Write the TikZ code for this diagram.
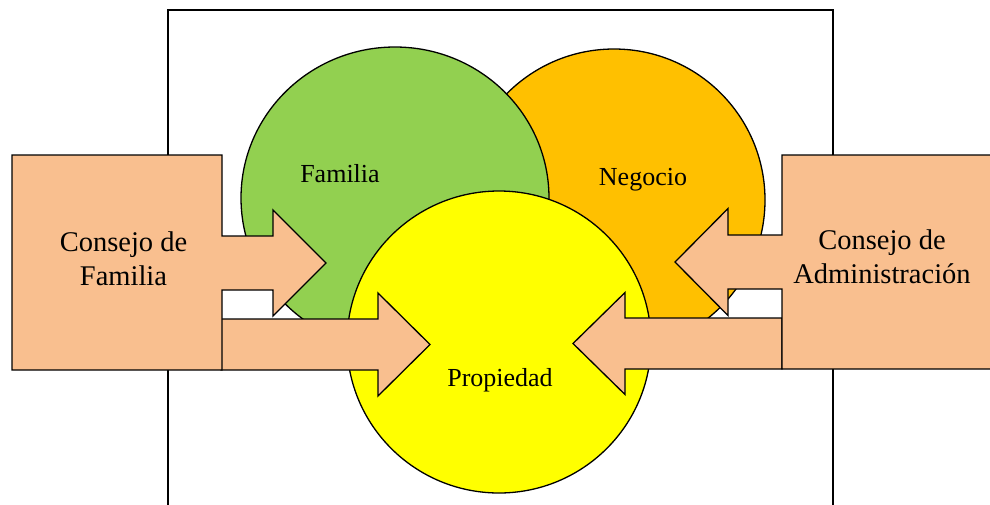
\documentclass[tikz,border=0pt]{standalone}
\usepackage{fontspec}
\setmainfont{Liberation Serif}
\definecolor{famgreen}{HTML}{92D050}
\definecolor{negorange}{HTML}{FFC000}
\definecolor{propyellow}{HTML}{FFFF00}
\definecolor{peach}{HTML}{F9BF8F}
\begin{document}
\begin{tikzpicture}[x=1pt,y=-1pt,
  outline/.style={draw=black, line width=1.3pt, line join=miter},
  circ/.style={outline},
  peachshape/.style={outline, fill=peach},
  boxlabel/.style={font=\fontsize{28.5}{34}\selectfont, align=center, inner sep=0pt},
  circlabel/.style={font=\fontsize{26}{30}\selectfont, inner sep=0pt, anchor=base}]
\clip (0,0) rectangle (990,504);
\fill[white] (0,0) rectangle (990,504);
% frame
\draw[outline] (168,10) rectangle (833,540);
% circles
\draw[circ, fill=negorange] (614,200) ellipse [x radius=151, y radius=151];
\draw[circ, fill=famgreen] (395,198) ellipse [x radius=154, y radius=151];
\draw[circ, fill=propyellow] (499,342) ellipse [x radius=152, y radius=151];
% left lower arrow
\draw[peachshape] (221,319) -- (378,319) -- (378,293) -- (430,344.5) -- (378,396) -- (378,370) -- (221,370) -- cycle;
% left box with upper arrow
\draw[peachshape] (12,155) -- (222,155) -- (222,236) -- (273,236) -- (273,210) -- (326,263) -- (273,316) -- (273,290) -- (222,290) -- (222,370) -- (12,370) -- cycle;
% right lower arrow
\draw[peachshape] (782,318) -- (625,318) -- (625,292.5) -- (573,343.5) -- (625,394.5) -- (625,369) -- (782,369) -- cycle;
% right box with upper arrow
\draw[peachshape] (1000,155) -- (782,155) -- (782,235) -- (728,235) -- (728,208.5) -- (675,262) -- (728,315.5) -- (728,289) -- (782,289) -- (782,369) -- (1000,369);
% labels
\node[circlabel] (familia) at (340,182) {Familia};
\node[circlabel] (negocio) at (643,185) {Negocio};
\node[circlabel] (propiedad) at (500,386) {Propiedad};
\node[boxlabel] (cfamilia) at (123.5,259) {Consejo de\\Familia};
\node[boxlabel] (cadmin) at (882,257) {Consejo de\\Administración};
\end{tikzpicture}
\end{document}
